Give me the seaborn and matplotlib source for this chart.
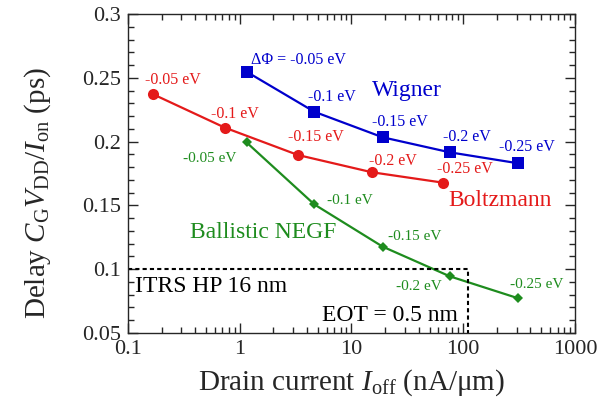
import numpy as np
import pandas as pd
import matplotlib
matplotlib.use("Agg")
import matplotlib.pyplot as plt
import seaborn as sns
from matplotlib.ticker import MultipleLocator, LogLocator, NullFormatter

# data
wigner_x = [1.15, 4.65, 19.0, 76.0, 311.0]
wigner_y = [0.2548, 0.2234, 0.2034, 0.1916, 0.1830]
boltz_x = [0.166, 0.738, 3.32, 15.2, 66.3]
boltz_y = [0.2373, 0.2109, 0.1895, 0.1760, 0.1678]
negf_x = [1.15, 4.65, 19.0, 76.0, 311.0]
negf_y = [0.1994, 0.1508, 0.1177, 0.0944, 0.0772]
dphi_labels = ["-0.05 eV", "-0.1 eV", "-0.15 eV", "-0.2 eV", "-0.25 eV"]

itrs_x = [0.1, 110, 110]
itrs_y = [0.1, 0.1, 0.05]

blue = "#0000CC"
red = "#E41A1A"
green = "#1E8C1E"

sns.set_style("ticks")
plt.rcParams['font.family'] = ['Liberation Serif', 'DejaVu Serif']
plt.rcParams['mathtext.fontset'] = 'custom'
plt.rcParams['mathtext.rm'] = 'Liberation Serif'
plt.rcParams['mathtext.it'] = 'Liberation Serif:italic'

fig = plt.figure(figsize=(6.11, 4.04), dpi=100)
ax = fig.add_axes([0.2095, 0.1757, 0.7315, 0.7896])

sns.lineplot(x=wigner_x, y=wigner_y, ax=ax, color=blue, marker="s", markersize=8,
             markeredgewidth=0, linewidth=1.6, sort=False)
sns.lineplot(x=boltz_x, y=boltz_y, ax=ax, color=red, marker="o", markersize=8,
             markeredgewidth=0, linewidth=1.6, sort=False)
sns.lineplot(x=negf_x, y=negf_y, ax=ax, color=green, marker="D", markersize=5.5,
             markeredgewidth=0, linewidth=1.6, sort=False)
ax.plot(itrs_x, itrs_y, color="black", linestyle=(0, (2, 1.5)), linewidth=1.5)

ax.set_xscale("log")
ax.set_xlim(0.1, 1000)
ax.set_ylim(0.05, 0.3)
ax.yaxis.set_minor_locator(MultipleLocator(0.01))
ax.xaxis.set_minor_locator(LogLocator(base=10, subs=np.arange(2, 10)))
ax.xaxis.set_minor_formatter(NullFormatter())
ax.set_xticks([0.1, 1, 10, 100, 1000])
ax.set_xticklabels(["0.1", "1", "10", "100", "1000"])
ax.set_yticks([0.05, 0.1, 0.15, 0.2, 0.25, 0.3])
ax.set_yticklabels(["0.05", "0.1", "0.15", "0.2", "0.25", "0.3"])
ax.tick_params(which="both", direction="in", top=True, right=True, labelsize=16, width=1)
ax.tick_params(which="major", length=7, pad=5)
ax.tick_params(which="minor", length=4)
for s in ax.spines.values():
    s.set_linewidth(1)

ax.set_xlabel(r"Drain current $I_{\mathrm{off}}$ (nA/μm)", fontsize=21, labelpad=6)
ax.set_ylabel(r"Delay $C_{\mathrm{G}}V_{\mathrm{DD}}/I_{\mathrm{on}}$ (ps)", fontsize=21)
ax.yaxis.set_label_coords(-0.168, 0.44)

# labels for each point
fs = 11.5
wig_pos = [(6.65, 0.235), (27.2, 0.2154), (107, 0.2036), (370, 0.1958)]
ax.text(1.25, 0.264, "ΔΦ = " + dphi_labels[0], color=blue, fontsize=fs, ha="left", va="center")
for (x, y), t in zip(wig_pos, dphi_labels[1:]):
    ax.text(x, y, t, color=blue, fontsize=fs, ha="center", va="center")
bol_pos = [(0.253, 0.2483), (0.907, 0.2216), (4.81, 0.2036), (23.5, 0.1848), (104, 0.1785)]
for (x, y), t in zip(bol_pos, dphi_labels):
    ax.text(x, y, t, color=red, fontsize=fs, ha="center", va="center")
negf_pos = [(0.542, 0.1871), (9.7, 0.1537), (37, 0.1255), (40.2, 0.0861), (454, 0.0884)]
for (x, y), t in zip(negf_pos, dphi_labels):
    ax.text(x, y, t, color=green, fontsize=fs - 0.5, ha="center", va="center")

ax.text(31.2, 0.2404, "Wigner", color=blue, fontsize=17, ha="center", va="center")
ax.text(213, 0.1537, "Boltzmann", color=red, fontsize=17, ha="center", va="center")
ax.text(1.61, 0.1284, "Ballistic NEGF", color=green, fontsize=17, ha="center", va="center")
ax.text(0.1155, 0.0868, "ITRS HP 16 nm", color="black", fontsize=17, ha="left", va="center")
ax.text(22.1, 0.0641, "EOT = 0.5 nm", color="black", fontsize=17, ha="center", va="center")

fig.savefig("out.png", dpi=100)
